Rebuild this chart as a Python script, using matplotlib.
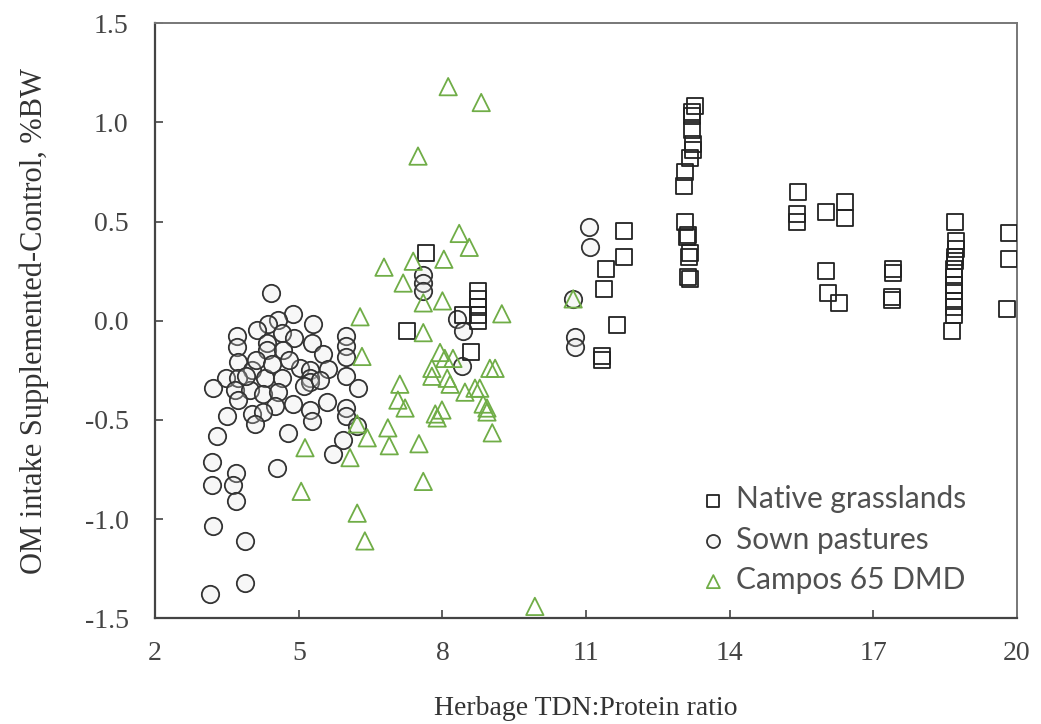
import numpy as np
import matplotlib.pyplot as plt

# -------------------------------------------------------------------------------------------------- #
# Data

# Native grasslands (squares)
native_x = [7.26, 7.66, 8.43, 8.74, 8.74, 8.74, 8.74, 8.74, 8.60,
            11.33, 11.37, 11.42, 11.65, 11.79, 11.79, 11.33,
            13.27, 13.21, 13.21, 13.21, 13.23, 13.23, 13.17, 13.07, 13.05, 13.07,
            13.13, 13.10, 13.17, 13.15, 13.13, 13.17,
            15.42, 15.40, 15.40, 16.01, 16.40, 16.40, 16.01, 16.05, 16.28,
            17.41, 17.41, 17.39, 17.39,
            18.70, 18.72, 18.72, 18.70, 18.70, 18.68, 18.68, 18.68, 18.68, 18.68, 18.68, 18.68, 18.64,
            19.83, 19.83, 19.79]
native_y = [-0.05, 0.34, 0.03, 0.15, 0.11, 0.07, 0.03, 0.00, -0.16,
            -0.18, 0.16, 0.26, -0.02, 0.45, 0.32, -0.20,
            1.08, 1.05, 1.03, 0.96, 0.89, 0.86, 0.82, 0.75, 0.68, 0.50,
            0.43, 0.42, 0.34, 0.32, 0.22, 0.21,
            0.65, 0.54, 0.50, 0.55, 0.60, 0.52, 0.25, 0.14, 0.09,
            0.26, 0.24, 0.12, 0.105,
            0.50, 0.40, 0.36, 0.32, 0.30, 0.26, 0.22, 0.18, 0.15, 0.10, 0.07, 0.03, -0.05,
            0.44, 0.31, 0.06]

# Sown pastures (circles)
sown_x = [4.42, 4.88, 5.30, 4.57, 4.36, 4.13, 3.71, 3.71, 4.65, 4.90, 4.33, 4.33, 4.67,
          5.28, 5.51, 5.99, 5.99, 5.99, 3.73, 4.02, 5.03, 5.24, 5.24, 5.24, 5.61,
          3.48, 3.21, 3.73, 4.30, 4.65, 5.99, 6.24, 3.67, 3.98, 4.26, 4.57, 3.73,
          4.88, 4.50, 5.59, 5.24, 5.99, 5.99, 3.50, 4.02, 4.25, 4.09, 5.28, 6.22,
          3.29, 4.78, 5.93, 5.72, 3.19, 4.55, 3.69, 3.19, 3.63, 3.69, 3.21, 3.88,
          3.88, 3.15, 4.10, 4.45, 5.10, 5.45, 4.80, 3.90,
          7.60, 7.60, 7.60, 8.30, 8.43, 8.41, 10.73, 10.77, 10.77, 11.06, 11.08]
sown_y = [0.14, 0.035, -0.016, 0.005, -0.015, -0.046, -0.077, -0.13, -0.06, -0.087, -0.11, -0.15, -0.15,
          -0.11, -0.17, -0.076, -0.127, -0.185, -0.21, -0.25, -0.24, -0.25, -0.29, -0.31, -0.245,
          -0.29, -0.34, -0.29, -0.29, -0.29, -0.28, -0.34, -0.35, -0.35, -0.37, -0.36, -0.40,
          -0.42, -0.43, -0.41, -0.45, -0.44, -0.48, -0.48, -0.47, -0.46, -0.52, -0.505, -0.53,
          -0.58, -0.565, -0.60, -0.67, -0.71, -0.74, -0.77, -0.83, -0.83, -0.91, -1.035, -1.11,
          -1.32, -1.38, -0.20, -0.22, -0.33, -0.30, -0.20, -0.28,
          0.23, 0.19, 0.15, 0.01, -0.05, -0.23, 0.11, -0.08, -0.13, 0.475, 0.37]

# Campos 65 DMD (triangles)
campos_x = [8.12, 8.81, 7.49, 8.35, 8.56, 6.78, 7.39, 8.03, 7.18, 7.60, 8.00, 6.28,
            7.60, 6.32, 7.95, 8.05, 8.22, 7.78, 7.78, 8.10, 8.16, 8.99, 9.10,
            7.11, 7.07, 7.22, 8.47, 8.68, 8.78, 8.85, 8.93, 8.93, 7.85, 7.89, 7.99,
            6.22, 6.43, 6.86, 6.89, 7.51, 9.04, 5.13, 6.07, 7.60, 5.05, 6.22, 6.38,
            9.93, 10.73, 9.24]
campos_y = [1.18, 1.10, 0.83, 0.44, 0.37, 0.27, 0.30, 0.31, 0.19, 0.09, 0.10, 0.02,
            -0.06, -0.18, -0.16, -0.19, -0.19, -0.24, -0.28, -0.29, -0.32, -0.24, -0.24,
            -0.32, -0.40, -0.44, -0.36, -0.34, -0.34, -0.42, -0.44, -0.46, -0.47, -0.49, -0.45,
            -0.52, -0.59, -0.54, -0.63, -0.62, -0.565, -0.64, -0.69, -0.81, -0.86, -0.97, -1.11,
            -1.44, 0.11, 0.035]

x_ticks = [2, 5, 8, 11, 14, 17, 20]
y_ticks = [-1.5, -1.0, -0.5, 0.0, 0.5, 1.0, 1.5]

# -------------------------------------------------------------------------------------------------- #

green = '#70AD47'
serif = ['Liberation Serif', 'DejaVu Serif']

fig = plt.figure(figsize=(10.41, 7.24), dpi=100)
ax = fig.add_axes([0.149, 0.146, 0.828, 0.822])

ax.scatter(native_x, native_y, marker='s', s=11.5**2, facecolors='none',
           edgecolors='#222222', linewidths=1.3, label='Native grasslands', zorder=3)
ax.scatter(sown_x, sown_y, marker='o', s=12.5**2, facecolors=(0.88, 0.88, 0.88, 0.25),
           edgecolors='#333333', linewidths=1.3, label='Sown pastures', zorder=2)
ax.scatter(campos_x, campos_y, marker='^', s=12.5**2, facecolors='none',
           edgecolors=green, linewidths=1.3, label='Campos 65 DMD', zorder=4)

ax.set_xlim(2, 20)
ax.set_ylim(-1.5, 1.5)
ax.set_xticks(x_ticks)
ax.set_xticklabels([str(t) for t in x_ticks], family=serif, fontsize=20, color='#333333')
ax.set_yticks(y_ticks)
ax.set_yticklabels([f'{t:.1f}' for t in y_ticks], family=serif, fontsize=20, color='#333333')
ax.tick_params(direction='in', length=6, width=1.2, colors='#444444')
ax.tick_params(axis='y', pad=19)
ax.tick_params(axis='x', pad=16)

for side in ['left', 'bottom']:
    ax.spines[side].set_color('#444444')
    ax.spines[side].set_linewidth(1.6)
for side in ['top', 'right']:
    ax.spines[side].set_color('#777777')
    ax.spines[side].set_linewidth(1.4)

ax.set_xlabel('Herbage TDN:Protein ratio', family=serif, fontsize=20, color='#333333', labelpad=22)
ax.set_ylabel('OM intake Supplemented-Control, %BW', family=serif, fontsize=22,
              color='#333333', labelpad=26)

leg = ax.legend(loc='lower left', bbox_to_anchor=(0.613, 0.02), frameon=False,
                prop={'family': ['Lato', 'DejaVu Sans'], 'size': 21.5},
                handletextpad=0.15, labelspacing=0.42, handlelength=1.2,
                markerscale=0.75, borderaxespad=0.0)
for t in leg.get_texts():
    t.set_color('#505050')

plt.savefig('out.png', dpi=100)
